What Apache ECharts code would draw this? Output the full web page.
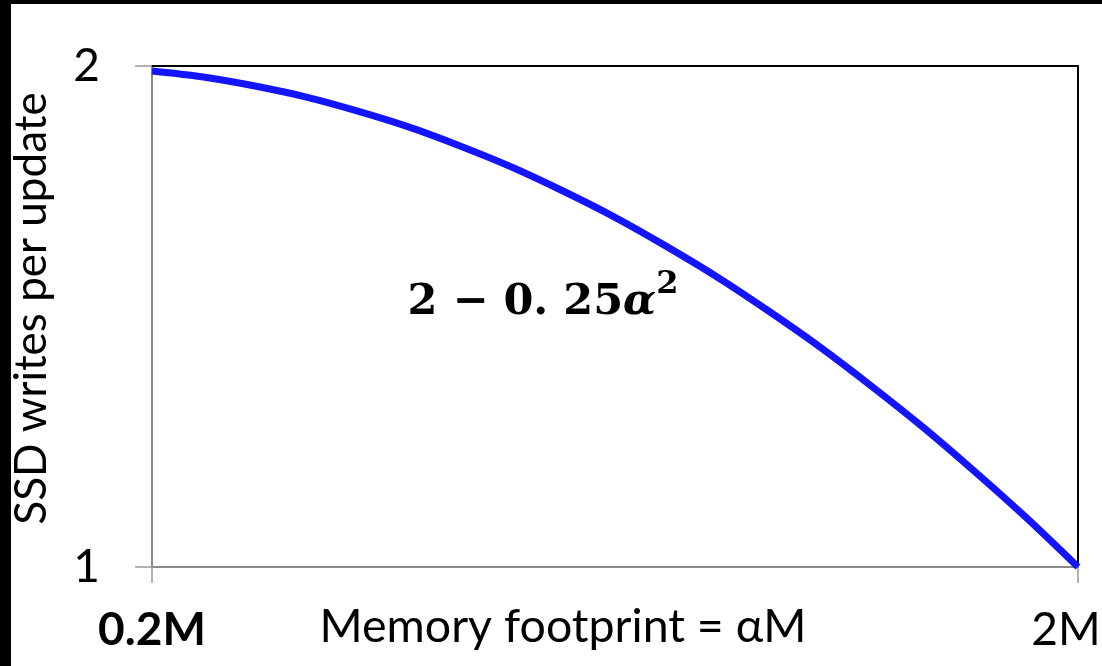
<!DOCTYPE html>
<html>
<head>
<meta charset="utf-8">
<script src="https://cdn.jsdelivr.net/npm/echarts@6/dist/echarts.min.js"></script>
<style>
  html, body { margin: 0; padding: 0; background: #000; width: 1102px; height: 666px; overflow: hidden; }
  #c { position: absolute; left: 11px; top: 4px; width: 1091px; height: 662px; background: #fff; }
</style>
</head>
<body>
<div id="c"></div>
<script>
// Data
const alphaValues = [0.2, 0.3, 0.4, 0.5, 0.6, 0.7, 0.8, 0.9, 1.0, 1.1, 1.2, 1.3, 1.4, 1.5, 1.6, 1.7, 1.8, 1.9, 2.0];
const ssdWrites   = [1.990, 1.978, 1.960, 1.938, 1.910, 1.878, 1.840, 1.798, 1.750, 1.698, 1.640, 1.578, 1.510, 1.438, 1.360, 1.278, 1.190, 1.098, 1.000];
const xTickValues = [0.2, 2];
const xTickLabels = ['0.2M', '2M'];
const yTickValues = [1, 2];
const xAxisTitle = 'Memory footprint = αM';
const yAxisTitle = 'SSD writes per update';
const curveLabelPos = [0.96, 1.54];

const sans = 'Lato';
const chart = echarts.init(document.getElementById('c'), null, { renderer: 'canvas' });
const seriesData = alphaValues.map((a, i) => [a, ssdWrites[i]]);

chart.setOption({
  animation: false,
  backgroundColor: '#ffffff',
  grid: { left: 141, right: 24, top: 62, bottom: 99, containLabel: false, outerBoundsMode: 'none' },
  xAxis: [{
    type: 'value', min: 0.2, max: 2,
    axisLine: { show: true, lineStyle: { color: '#8a8a8a', width: 2 } },
    axisTick: { show: true, customValues: xTickValues, length: 16, lineStyle: { color: '#9a9a9a', width: 1.5 } },
    splitLine: { show: false },
    axisLabel: {
      customValues: xTickValues, margin: 40, hideOverlap: false,
      formatter: function (v) {
        const i = xTickValues.findIndex(t => Math.abs(t - v) < 1e-9);
        if (i === 0) return '{b|' + xTickLabels[0] + '}';
        return '{r|' + xTickLabels[i] + '}';
      },
      rich: {
        b: { fontFamily: sans, fontSize: 46, fontWeight: 'bold', color: '#000' },
        r: { fontFamily: sans, fontSize: 46, color: '#000', padding: [0, 24, 0, 0] }
      }
    },
    name: xAxisTitle, nameLocation: 'middle', nameGap: 36, nameMoveOverlap: false,
    nameTextStyle: { fontFamily: sans, fontSize: 46.5, color: '#000', padding: [0, 104, 0, 0] }
  }, {
    type: 'value', min: 0.2, max: 2, position: 'top',
    axisLine: { show: true, lineStyle: { color: '#000', width: 2 } },
    axisTick: { show: false }, axisLabel: { show: false }, splitLine: { show: false }
  }],
  yAxis: [{
    type: 'value', min: yTickValues[0], max: yTickValues[1], interval: 1,
    axisLine: { show: true, lineStyle: { color: '#8a8a8a', width: 2 } },
    axisTick: { show: true, length: 17, lineStyle: { color: '#9a9a9a', width: 1.5 } },
    splitLine: { show: false },
    axisLabel: { margin: 52, fontFamily: sans, fontSize: 46, color: '#000' },
    name: yAxisTitle, nameLocation: 'middle', nameGap: 98, nameRotate: 90, nameMoveOverlap: false,
    nameTextStyle: { fontFamily: sans, fontSize: 44, color: '#000', padding: [0, 0, 0, 16] }
  }, {
    type: 'value', min: yTickValues[0], max: yTickValues[1], interval: 1, position: 'right',
    axisLine: { show: true, lineStyle: { color: '#000', width: 2 } },
    axisTick: { show: false }, axisLabel: { show: false }, splitLine: { show: false }
  }],
  series: [{
    type: 'line',
    data: seriesData,
    smooth: 0.3,
    showSymbol: false,
    lineStyle: { color: '#1414ff', width: 7 },
    z: 5,
    markPoint: {
      symbol: 'circle', symbolSize: 0,
      data: [{ coord: curveLabelPos }],
      label: {
        show: true, position: 'inside',
        formatter: '{a|2 − 0. 25}{b|α}{c|2}',
        rich: {
          a: { fontFamily: 'DejaVu Serif', fontWeight: 'bold', fontSize: 43, lineHeight: 56, color: '#000', verticalAlign: 'bottom' },
          b: { fontFamily: 'DejaVu Serif', fontWeight: 'bold', fontStyle: 'italic', fontSize: 43, lineHeight: 56, color: '#000', verticalAlign: 'bottom' },
          c: { fontFamily: 'DejaVu Serif', fontWeight: 'bold', fontSize: 32, lineHeight: 32, color: '#000', verticalAlign: 'top' }
        }
      }
    }
  }]
});
</script>
</body>
</html>
